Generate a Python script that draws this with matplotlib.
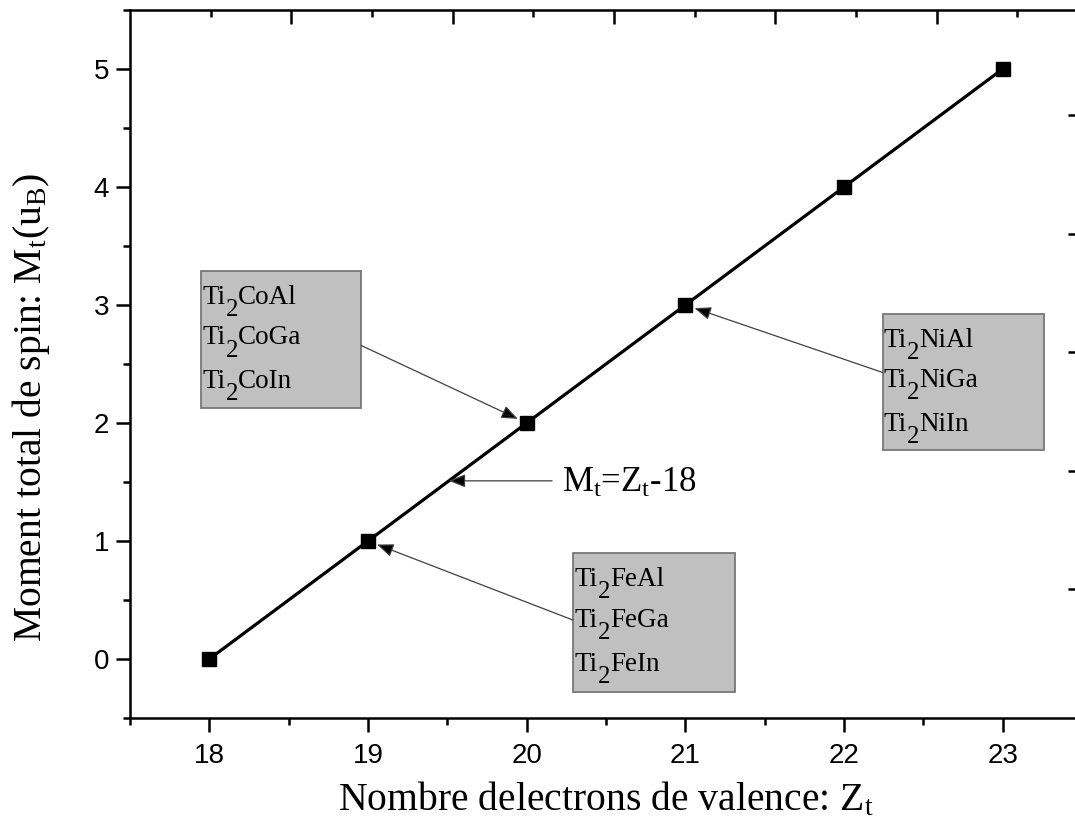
import re
import numpy as np
import matplotlib
matplotlib.use("Agg")
import matplotlib.pyplot as plt
from matplotlib.patches import Rectangle

# Valence electron count vs total spin moment (Slater-Pauling rule)
electrons = [18, 19, 20, 21, 22, 23]
moments = [0, 1, 2, 3, 4, 5]

# Compound families and the electron count each one points to
fe_family = ["Ti2FeAl", "Ti2FeGa", "Ti2FeIn"]
co_family = ["Ti2CoAl", "Ti2CoGa", "Ti2CoIn"]
ni_family = ["Ti2NiAl", "Ti2NiGa", "Ti2NiIn"]
fe_zt, co_zt, ni_zt = 19, 20, 21

rule_label = r"M$_\mathrm{t}$=Z$_\mathrm{t}$-18"
rule_level = 1.51

x_label = r"Nombre delectrons de valence: Z$_\mathrm{t}$"
y_label = r"Moment total de spin: M$_\mathrm{t}$(u$_\mathrm{B}$)"

plt.rcParams["mathtext.fontset"] = "custom"
plt.rcParams["mathtext.rm"] = "Liberation Serif"
plt.rcParams["mathtext.it"] = "Liberation Serif:italic"
plt.rcParams["mathtext.bf"] = "Liberation Serif:bold"

SERIF = "Liberation Serif"
SANS = "Liberation Sans"

fig = plt.figure(figsize=(10.75, 8.23), dpi=100)
W, H = 1075, 823
ax = fig.add_axes([130 / W, 1 - 718 / H, 952 / W, 708 / H])

ax.plot(electrons, moments, color="black", lw=2.3, marker="s",
        markersize=10, markerfacecolor="black", markeredgecolor="black",
        zorder=5)

ax.set_xlim(17.5, 23.5)
ax.set_ylim(-0.5, 5.5)

ax.set_xticks(electrons)
ax.set_xticks(np.arange(17.5, 23.6, 1.0), minor=True)
ax.set_yticks(moments)
ax.set_yticks(np.arange(-0.5, 5.6, 1.0), minor=True)

for side in ("left", "bottom", "top", "right"):
    ax.spines[side].set_linewidth(1.8)

ax.tick_params(which="major", direction="out", length=10, width=1.8,
               labelsize=20, top=False, right=False)
ax.tick_params(axis="x", which="major", pad=8)
ax.tick_params(axis="y", which="major", pad=5)
ax.tick_params(which="minor", direction="out", length=5, width=1.8,
               top=False, right=False)
for lab in ax.get_xticklabels() + ax.get_yticklabels():
    lab.set_fontfamily(SANS)

ax.set_xlabel(x_label, fontsize=28.5, fontfamily=SERIF, labelpad=8)
ax.set_ylabel(y_label, fontsize=28.5, fontfamily=SERIF)
ax.yaxis.set_label_coords(-0.082, 0.439)

# Mirrored frame ticks on the top and right edges
top = ax.twiny()
top.set_xlim(0, 5.9)
top.set_xticks(np.arange(1, 6))
top.set_xticks(np.arange(0.5, 5.6, 1.0), minor=True)
top.tick_params(which="major", direction="in", length=10, width=1.8,
                labeltop=False, labelbottom=False)
top.tick_params(which="minor", direction="in", length=5, width=1.8)

right = ax.twinx()
right.set_ylim(-0.09, 5.89)
right.set_yticks(np.arange(1, 6))
right.set_yticks(np.arange(0.5, 5.6, 1.0), minor=True)
right.tick_params(which="major", direction="in", length=10, width=1.8,
                  labelright=False, labelleft=False)
right.tick_params(which="minor", direction="in", length=5, width=1.8)
for a in (top, right):
    for s in a.spines.values():
        s.set_visible(False)


def formula(x, y, name, fs=19.5, drop=8):
    """Write a chemical formula with lowered, near full-size indices."""
    parts = [p for p in re.split(r"(\d+)", name) if p]
    first = ax.text(x, y, parts[0], fontsize=fs, fontfamily=SERIF,
                    ha="left", va="center", zorder=4)
    prev = first
    for part in parts[1:]:
        if part.isdigit():
            prev = ax.annotate(part, xy=(1, 0), xycoords=(prev, first),
                               xytext=(0, -drop), textcoords="offset points",
                               fontsize=fs * 0.92, fontfamily=SERIF,
                               ha="left", va="bottom", zorder=4)
        else:
            prev = ax.annotate(part, xy=(1, 0), xycoords=(prev, first),
                               fontsize=fs, fontfamily=SERIF,
                               ha="left", va="bottom", zorder=4)


def compound_box(names, left, bottom, width, height, tail, target_zt):
    ax.add_patch(Rectangle((left, bottom), width, height,
                           facecolor="#c0c0c0", edgecolor="#777777",
                           lw=1.3, zorder=3))
    top_edge = bottom + height
    for name, drop in zip(names, (0.225, 0.57, 0.94)):
        formula(left + 0.008, top_edge - drop, name)
    target_m = moments[electrons.index(target_zt)]
    ax.annotate("", xy=(target_zt, target_m), xytext=tail,
                arrowprops=dict(arrowstyle="-|>,head_length=0.5,head_width=0.2",
                                mutation_scale=20, lw=0.9, ec="#404040",
                                fc="black", shrinkA=0, shrinkB=7),
                zorder=6)


compound_box(co_family, 17.95, 2.124, 1.007, 1.167, (18.957, 2.657), co_zt)
compound_box(ni_family, 22.244, 1.768, 1.014, 1.159, (22.244, 2.428), ni_zt)
compound_box(fe_family, 20.292, -0.279, 1.02, 1.176, (20.292, 0.330), fe_zt)

# Label for the linear rule, with an arrow pointing at the line
rule_x = np.interp(rule_level, moments, electrons)
ax.annotate("", xy=(rule_x, rule_level), xytext=(20.16, rule_level),
            arrowprops=dict(arrowstyle="-|>,head_length=0.5,head_width=0.2",
                            mutation_scale=20, lw=0.9, ec="#404040",
                            fc="black", shrinkA=0, shrinkB=0),
            zorder=6)
ax.text(20.22, rule_level - 0.02, rule_label, fontsize=25, fontfamily=SERIF,
        ha="left", va="center")

fig.savefig("out.png", dpi=100)
